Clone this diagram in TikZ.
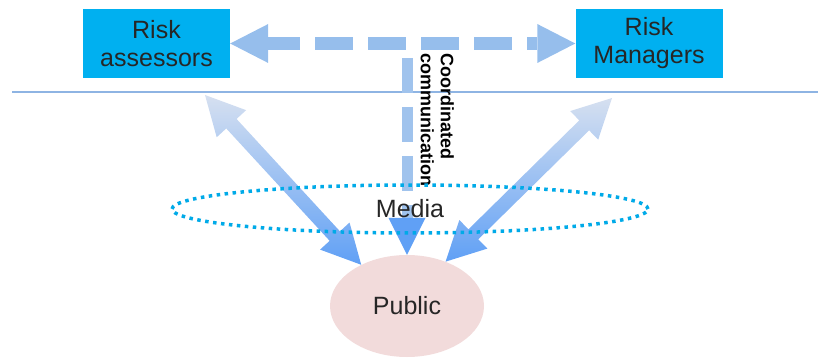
\documentclass[tikz,border=0pt]{standalone}
\usepackage{fontspec}
\setmainfont{Liberation Sans}
\usetikzlibrary{arrows.meta,calc,shapes.geometric}

\definecolor{boxcyan}{RGB}{0,176,240}
\definecolor{rulegrey}{RGB}{142,180,227}
\definecolor{dashblue}{RGB}{150,190,236}
\definecolor{arrowpale}{RGB}{214,224,240}
\definecolor{arrowblue}{RGB}{96,160,245}
\definecolor{mediadot}{RGB}{0,170,232}
\definecolor{publicpink}{RGB}{242,219,219}

% fat two-headed arrow between #2 and #3, shaded by #1
\newcommand\twoway[3][]{%
  \shade[#1] (#2)
    -- ($(#2)!39pt!(#3)!20pt!90:(#3)$)
    -- ($(#2)!39pt!(#3)!7pt!90:(#3)$)
    -- ($(#3)!39pt!(#2)!7pt!-90:(#2)$)
    -- ($(#3)!39pt!(#2)!20pt!-90:(#2)$)
    -- (#3)
    -- ($(#3)!39pt!(#2)!20pt!90:(#2)$)
    -- ($(#3)!39pt!(#2)!7pt!90:(#2)$)
    -- ($(#2)!39pt!(#3)!7pt!-90:(#3)$)
    -- ($(#2)!39pt!(#3)!20pt!-90:(#3)$)
    -- cycle;}

\begin{document}
\begin{tikzpicture}[x=1pt, y=-1pt,
    box/.style={fill=boxcyan, text=black!85, minimum width=147pt, minimum height=69pt,
      inner sep=0pt, align=center, font=\fontsize{25}{28}\selectfont},
    rule/.style={draw=rulegrey, line width=1.3pt},
    hdash/.style={draw=dashblue, line width=13pt, dash pattern=on 38pt off 15pt, dash phase=6pt,
      {Triangle[length=38pt,width=39pt,line width=0pt]}-{Triangle[length=38pt,width=39pt,line width=0pt]}},
    vdash/.style={draw=dashblue!85!arrowpale, line width=11pt, dash pattern=on 35pt off 14pt,
      -{Triangle[length=37pt,width=37pt,line width=0pt,color=arrowblue]}},
    fat/.style={top color=arrowpale, middle color=arrowblue!80!arrowpale, bottom color=arrowblue},
    media/.style={ellipse, draw=mediadot, line width=3.5pt, dash pattern=on 3.5pt off 4.5pt,
      minimum width=476pt, minimum height=48pt, inner sep=0pt, text=black!85,
      font=\fontsize{25}{28}\selectfont},
    public/.style={ellipse, fill=publicpink, minimum width=154pt, minimum height=102pt,
      inner sep=0pt, text=black!85, font=\fontsize{25}{28}\selectfont}]
  \useasboundingbox (0,0) rectangle (818,358);

  \node[box] (assessors) at (156.5,43.5) {Risk\\assessors};
  \node[box] (managers) at (649,43.5) {Risk\\Managers};

  \coordinate (rule-l) at (12,92);
  \coordinate (rule-r) at (818,92);
  \draw[rule] (rule-l) -- (rule-r);

  \node[public] (public) at (407,306) {Public};

  % coordinated channel between the two sides, then down to the public
  \draw[hdash] (assessors.east) -- (managers.west);
  \coordinate (split) at (407,58);
  \draw[vdash] (split) -- (public.north);
  \node[rotate=-90, anchor=north west, align=left, inner sep=0pt,
    font=\fontsize{18}{20}\selectfont\bfseries] (coord) at (454,53)
    {Coordinated\\communication};

  % each side talks to the public directly
  \coordinate (assessors-out) at (205,95);
  \coordinate (managers-out) at (612,98);
  \twoway[fat]{assessors-out}{public.138}
  \twoway[fat]{managers-out}{public.49}

  \node[media] (media) at (410,209) {Media};
\end{tikzpicture}
\end{document}
